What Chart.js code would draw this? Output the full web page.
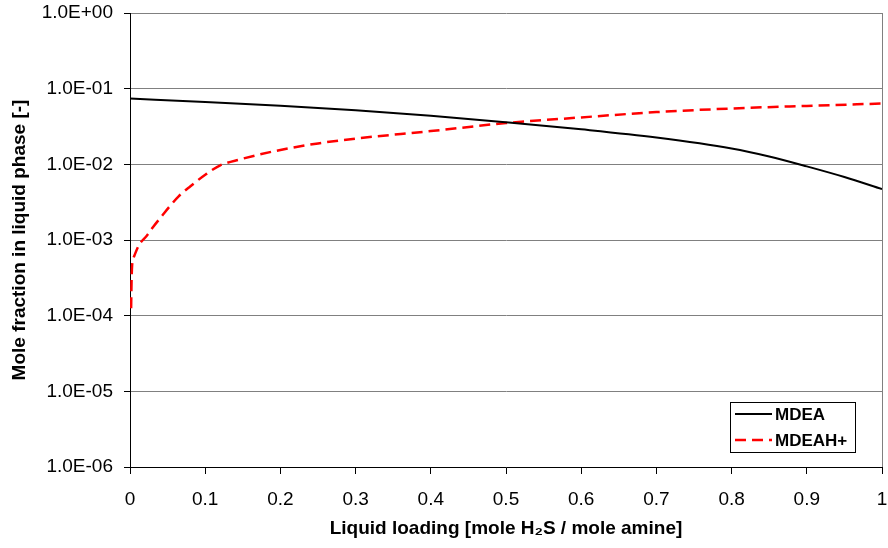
<!DOCTYPE html>
<html><head><meta charset="utf-8">
<script src="https://cdn.jsdelivr.net/npm/chart.js@4"></script>
<style>html,body{margin:0;padding:0;background:#fff}#wrap{width:888px;height:548px}</style>
</head><body><div id="wrap"><canvas id="c" width="888" height="548"></canvas></div>
<script>
const seriesNames = ['MDEA', 'MDEAH+'];
const mdeaX = [0, 0.1, 0.2, 0.3, 0.4, 0.5, 0.6, 0.7, 0.8, 0.85, 0.9, 0.95, 1.0];
const mdeaY = [0.0740, 0.0664, 0.0596, 0.0520, 0.0440, 0.0360, 0.0290, 0.0226, 0.0162, 0.0127, 0.0094, 0.0068, 0.0047];
const mdeahX = [0.0015, 0.0018, 0.0022, 0.0028, 0.0045, 0.0066, 0.012, 0.0226, 0.031, 0.042, 0.053, 0.065, 0.08, 0.101, 0.12, 0.146, 0.2, 0.25, 0.3, 0.4, 0.5, 0.6, 0.7, 0.8, 0.9, 1.0];
const mdeahY = [1.25e-4, 2.0e-4, 3.2e-4, 4.6e-4, 5.7e-4, 6.5e-4, 8.6e-4, 1.15e-3, 1.5e-3, 2.05e-3, 2.8e-3, 3.8e-3, 5.1e-3, 7.4e-3, 9.7e-3, 1.16e-2, 1.55e-2, 1.89e-2, 2.19e-2, 2.75e-2, 3.51e-2, 4.17e-2, 4.9e-2, 5.47e-2, 5.92e-2, 6.36e-2];
const yTickValues = [1e-6, 1e-5, 1e-4, 1e-3, 1e-2, 1e-1, 1];
const xTickValues = [0, 0.1, 0.2, 0.3, 0.4, 0.5, 0.6, 0.7, 0.8, 0.9, 1];
const xTitle = 'Liquid loading [mole H\u2082S / mole amine]';
const yTitle = 'Mole fraction in liquid phase [-]';

function fmtExp(v) {
  const e = Math.round(Math.log10(v));
  const a = Math.abs(e);
  return '1.0E' + (e < 0 ? '-' : '+') + (a < 10 ? '0' : '') + a;
}

const FONT = "'Liberation Sans', Arial, sans-serif";

const frameLegend = {
  id: 'frameLegend',
  afterDatasetsDraw(chart) {
    const {ctx, chartArea} = chart;
    ctx.save();
    ctx.strokeStyle = '#808080';
    ctx.lineWidth = 1;
    ctx.beginPath();
    ctx.moveTo(chartArea.right + 0.5, chartArea.top);
    ctx.lineTo(chartArea.right + 0.5, chartArea.bottom);
    ctx.stroke();
    ctx.restore();
  },
  afterDraw(chart) {
    const {ctx, chartArea} = chart;
    const bx = chartArea.right - 152, by = chartArea.bottom - 65, bw = 125, bh = 50;
    ctx.save();
    ctx.fillStyle = '#fff';
    ctx.fillRect(bx, by, bw, bh);
    ctx.strokeStyle = '#000';
    ctx.lineWidth = 1;
    ctx.strokeRect(bx + 0.5, by + 0.5, bw, bh);
    chart.data.datasets.forEach((ds, i) => {
      const yy = by + 12 + i * 26;
      ctx.strokeStyle = ds.borderColor;
      ctx.lineWidth = ds.borderWidth;
      ctx.setLineDash(ds.borderDash || []);
      ctx.beginPath();
      ctx.moveTo(bx + 5, yy);
      ctx.lineTo(bx + 42, yy);
      ctx.stroke();
      ctx.setLineDash([]);
      ctx.fillStyle = '#000';
      ctx.font = 'bold 17px ' + FONT;
      ctx.textBaseline = 'middle';
      ctx.textAlign = 'left';
      ctx.fillText(ds.label, bx + 45, yy + 1);
    });
    ctx.restore();
  }
};

new Chart(document.getElementById('c'), {
  type: 'line',
  data: {
    datasets: [
      { label: seriesNames[0], data: mdeaX.map((x, i) => ({x, y: mdeaY[i]})), borderColor: '#000000', borderWidth: 2, pointRadius: 0, cubicInterpolationMode: 'monotone', fill: false },
      { label: seriesNames[1], data: mdeahX.map((x, i) => ({x, y: mdeahY[i]})), borderColor: '#FF0000', borderWidth: 2.5, borderDash: [11, 6], pointRadius: 0, cubicInterpolationMode: 'monotone', fill: false }
    ]
  },
  options: {
    responsive: false,
    animation: false,
    devicePixelRatio: 1,
    layout: { padding: { top: 13, right: 6, bottom: 0, left: 0 } },
    plugins: { legend: { display: false }, tooltip: { enabled: false } },
    scales: {
      x: {
        type: 'linear', min: 0, max: 1,
        afterBuildTicks(s) { s.ticks = xTickValues.map(v => ({value: v})); },
        afterFit(s) { s.height = 81; s.paddingLeft = 0; s.paddingRight = 0; },
        ticks: { callback: v => String(Number(v.toFixed(1))), color: '#000', font: { family: FONT, size: 19 }, padding: 14, maxRotation: 0, autoSkip: false },
        grid: { drawOnChartArea: false, drawTicks: true, tickLength: 7, tickColor: '#000', color: '#000' },
        border: { color: '#000', width: 1 },
        title: { display: true, text: xTitle, color: '#000', font: { family: FONT, size: 19, weight: 'bold' }, padding: { top: 0, bottom: 8 } }
      },
      y: {
        type: 'logarithmic', min: 1e-6, max: 1,
        afterBuildTicks(s) { s.ticks = yTickValues.map(v => ({value: v})); },
        afterFit(s) { s.width = 130; s.paddingTop = 0; s.paddingBottom = 0; },
        ticks: { callback: v => fmtExp(v), color: '#000', font: { family: FONT, size: 19 }, padding: 11, autoSkip: false },
        grid: { color: '#808080', lineWidth: 1, drawTicks: true, tickLength: 6, tickColor: '#000' },
        border: { color: '#000', width: 1 },
        title: { display: true, text: yTitle, color: '#000', font: { family: FONT, size: 19, weight: 'bold' }, padding: { top: 8, bottom: 0 } }
      }
    }
  },
  plugins: [frameLegend]
});
</script></body></html>
